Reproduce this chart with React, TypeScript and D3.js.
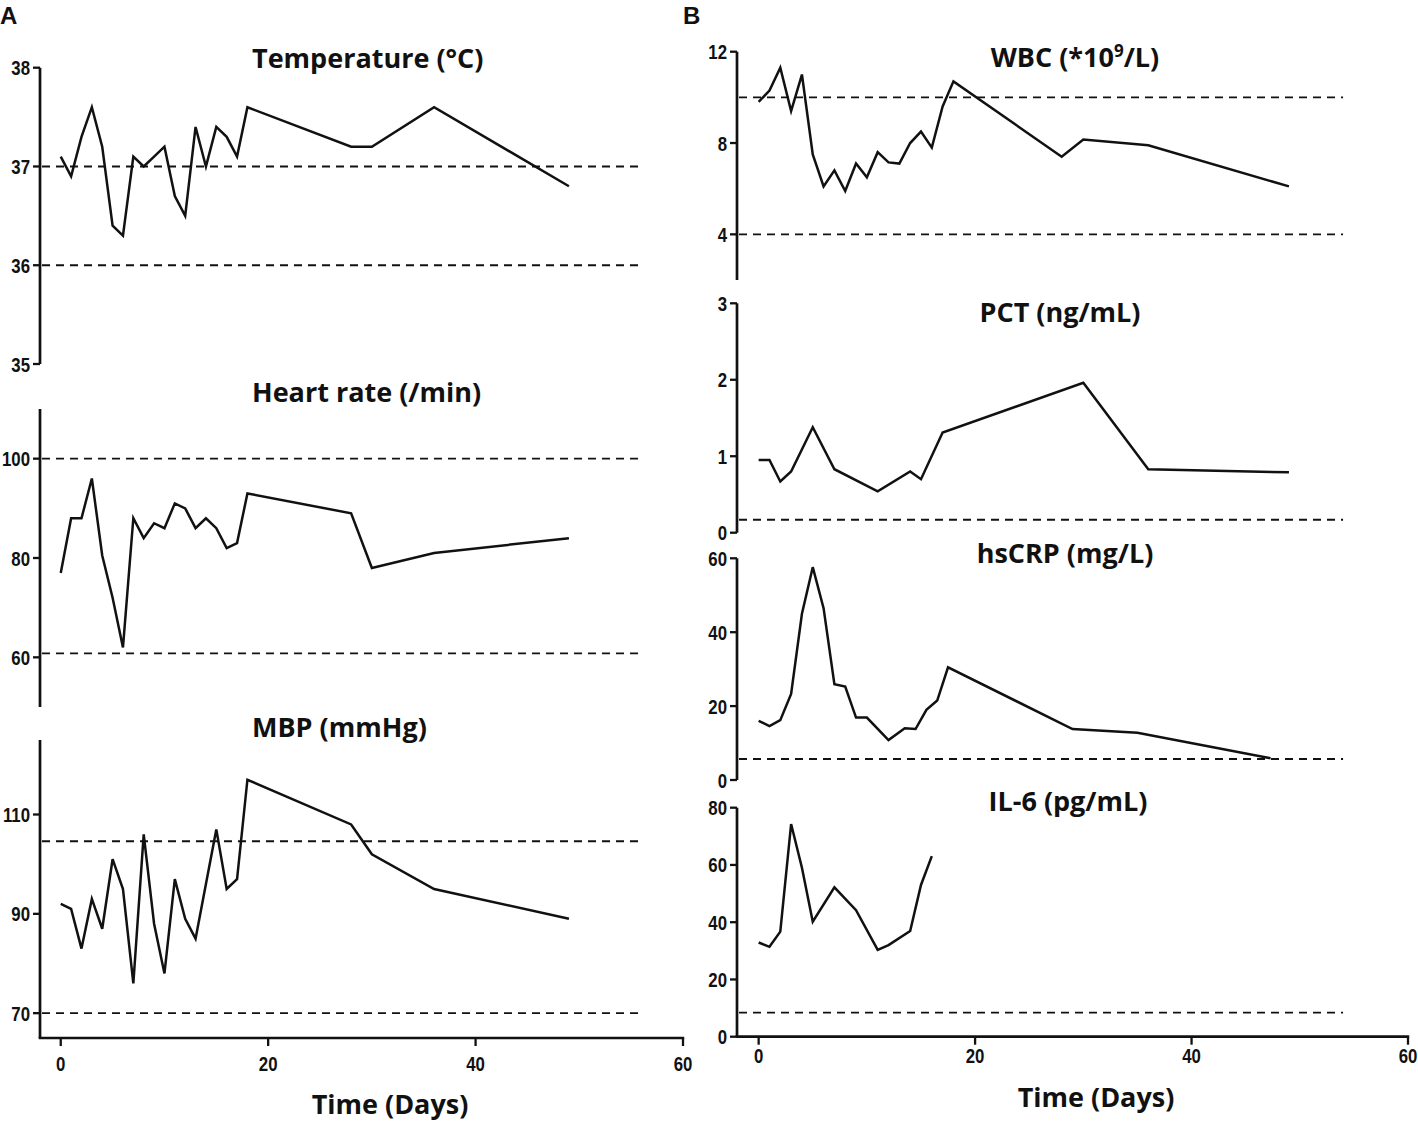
import React from "react";
import * as d3 from "d3";

// ---------- data ----------
const vitalDays = [0, 1, 2, 3, 4, 5, 6, 7, 8, 9, 10, 11, 12, 13, 14, 15, 16, 17, 18, 28, 30, 36, 49];
const tempValues = [37.1, 36.9, 37.3, 37.6, 37.2, 36.4, 36.3, 37.1, 37.0, 37.1, 37.2, 36.7, 36.5, 37.4, 37.0, 37.4, 37.3, 37.1, 37.6, 37.2, 37.2, 37.6, 36.8];
const hrValues = [77, 88, 88, 96, 80.5, 72, 62, 88, 84, 87, 86, 91, 90, 86, 88, 86, 82, 83, 93, 89, 78, 81, 84];
const mbpValues = [92, 91, 83, 93, 87, 101, 95, 76, 106, 88, 78, 97, 89, 85, 96, 107, 95, 97, 117, 108, 102, 95, 89];

const wbcDays = [0, 1, 2, 3, 4, 5, 6, 7, 8, 9, 10, 11, 12, 13, 14, 15, 16, 17, 18, 28, 30, 36, 49];
const wbcValues = [9.8, 10.3, 11.3, 9.4, 11.0, 7.5, 6.1, 6.8, 5.9, 7.1, 6.5, 7.6, 7.15, 7.1, 8.0, 8.5, 7.8, 9.6, 10.7, 7.4, 8.15, 7.9, 6.1];

const pctDays = [0, 1, 2, 3, 5, 7, 11, 14, 15, 17, 30, 36, 49];
const pctValues = [0.95, 0.95, 0.67, 0.8, 1.38, 0.83, 0.54, 0.8, 0.7, 1.31, 1.96, 0.83, 0.79];

const crpDays = [0, 1, 2, 3, 4, 5, 6, 7, 8, 9, 10, 12, 13.5, 14.5, 15.5, 16.5, 17.5, 29, 35, 47.3];
const crpValues = [16, 14.6, 16.2, 23.3, 45, 57.6, 46.5, 25.9, 25.3, 16.9, 16.9, 10.8, 14.0, 13.8, 19.0, 21.5, 30.5, 13.8, 12.8, 5.9];

const il6Days = [0, 1, 2, 3, 4, 5, 7, 9, 11, 12, 14, 15, 16];
const il6Values = [32.9, 31.4, 36.7, 74.3, 59, 40.2, 52.2, 44.2, 30.3, 32, 36.9, 53, 63.1];

const xTicks = [0, 20, 40, 60];
const tempTicks = [35, 36, 37, 38];
const hrTicks = [60, 80, 100];
const mbpTicks = [70, 90, 110];
const wbcTicks = [4, 8, 12];
const pctTicks = [0, 1, 2, 3];
const crpTicks = [0, 20, 40, 60];
const il6Ticks = [0, 20, 40, 60, 80];

const tempRefs = [37, 36];
const hrRefs = [100, 60.8];
const mbpRefs = [104.6, 70];
const wbcRefs = [10, 4];
const pctRefs = [0.17];
const crpRefs = [5.7];
const il6Refs = [8.4];

// ---------- styling ----------
const TICK_FONT = "'Liberation Sans', Arial, sans-serif";
const TITLE_FONT = "'Open Sans', sans-serif";

const xLeft = d3.scaleLinear().domain([-2, 60]).range([40, 683]);
const xRight = d3.scaleLinear().domain([-2, 60]).range([737, 1408]);

type PanelProps = {
  x: d3.ScaleLinear<number, number>;
  yDomain: [number, number];
  yRange: [number, number];
  ticks: number[];
  days: number[];
  values: number[];
  refs: number[];
  refEnd: number;
  title: React.ReactNode;
  titleX: number;
  titleY: number;
  titleAnchor: "start" | "middle";
};

function Narrow({ x, y, anchor, children, size = 21 }: { x: number; y: number; anchor: string; children: React.ReactNode; size?: number }) {
  return (
    <text
      transform={`translate(${x},${y}) scale(0.8,1)`}
      textAnchor={anchor as any}
      fontFamily={TICK_FONT}
      fontWeight="bold"
      fontSize={size}
      fill="#111"
    >
      {children}
    </text>
  );
}

function Panel(p: PanelProps) {
  const y = d3.scaleLinear().domain(p.yDomain).range(p.yRange);
  const x0 = p.x.range()[0];
  const line = d3
    .line<number>()
    .x((_, i) => p.x(p.days[i]))
    .y((v) => y(v));
  return (
    <g>
      {p.refs.map((r, i) => (
        <line
          key={"r" + i}
          x1={x0 + 2}
          x2={p.x(p.refEnd)}
          y1={y(r)}
          y2={y(r)}
          stroke="#111"
          strokeWidth={1.9}
          strokeDasharray="8,6"
        />
      ))}
      <line x1={x0} x2={x0} y1={p.yRange[0]} y2={p.yRange[1]} stroke="#111" strokeWidth={2.7} />
      {p.ticks.map((t) => (
        <g key={"t" + t}>
          <line x1={x0 - 7} x2={x0} y1={y(t)} y2={y(t)} stroke="#111" strokeWidth={2.3} />
          <Narrow x={x0 - 10} y={y(t) + 7.5} anchor="end">
            {t}
          </Narrow>
        </g>
      ))}
      <path d={line(p.values) || ""} fill="none" stroke="#111" strokeWidth={2.5} strokeLinejoin="miter" />
      <text
        x={p.titleX}
        y={p.titleY}
        textAnchor={p.titleAnchor}
        fontFamily={TITLE_FONT}
        fontWeight="bold"
        fontSize={27}
        fill="#111"
      >
        {p.title}
      </text>
    </g>
  );
}

function XAxis({ x, yPos, labelY, titleX, titleY }: { x: d3.ScaleLinear<number, number>; yPos: number; labelY: number; titleX: number; titleY: number }) {
  const [r0, r1] = x.range();
  return (
    <g>
      <line x1={r0 - 1.3} x2={r1 + 1.2} y1={yPos} y2={yPos} stroke="#111" strokeWidth={2.7} />
      {xTicks.map((t) => (
        <g key={t}>
          <line x1={x(t)} x2={x(t)} y1={yPos} y2={yPos + 8} stroke="#111" strokeWidth={2.3} />
          <Narrow x={x(t)} y={labelY} anchor="middle">
            {t}
          </Narrow>
        </g>
      ))}
      <text x={titleX} y={titleY} textAnchor="middle" fontFamily={TITLE_FONT} fontWeight="bold" fontSize={27} fill="#111">
        Time (Days)
      </text>
    </g>
  );
}

export default function App() {
  return (
    <svg
      width={1418}
      height={1123}
      viewBox="0 0 1418 1123"
      style={{ position: "absolute", left: 0, top: 0, background: "#fff" }}
    >
      <rect x={0} y={0} width={1418} height={1123} fill="#fff" />
      <text x={0} y={24} fontFamily={TICK_FONT} fontWeight="bold" fontSize={24} fill="#111">A</text>
      <text x={683} y={24} fontFamily={TICK_FONT} fontWeight="bold" fontSize={24} fill="#111">B</text>

      {/* Left column */}
      <Panel x={xLeft} yDomain={[35, 38]} yRange={[364, 67.7]} ticks={tempTicks} days={vitalDays} values={tempValues}
        refs={tempRefs} refEnd={56} title="Temperature (°C)" titleX={252} titleY={68} titleAnchor="start" />
      <Panel x={xLeft} yDomain={[50, 110]} yRange={[707, 409]} ticks={hrTicks} days={vitalDays} values={hrValues}
        refs={hrRefs} refEnd={56} title="Heart rate (/min)" titleX={252} titleY={402} titleAnchor="start" />
      <Panel x={xLeft} yDomain={[65, 125]} yRange={[1038, 740]} ticks={mbpTicks} days={vitalDays} values={mbpValues}
        refs={mbpRefs} refEnd={56} title="MBP (mmHg)" titleX={252} titleY={737} titleAnchor="start" />
      <XAxis x={xLeft} yPos={1038} labelY={1071} titleX={390} titleY={1114} />

      {/* Right column */}
      <Panel x={xRight} yDomain={[2, 12]} yRange={[280, 51.7]} ticks={wbcTicks} days={wbcDays} values={wbcValues}
        refs={wbcRefs} refEnd={54}
        title={<>WBC (*10<tspan fontSize={17} dy={-10}>9</tspan><tspan dy={10}>/L)</tspan></>}
        titleX={1075} titleY={67} titleAnchor="middle" />
      <Panel x={xRight} yDomain={[0, 3]} yRange={[532.7, 303.3]} ticks={pctTicks} days={pctDays} values={pctValues}
        refs={pctRefs} refEnd={54} title="PCT (ng/mL)" titleX={1060} titleY={322} titleAnchor="middle" />
      <Panel x={xRight} yDomain={[0, 60]} yRange={[780, 558.3]} ticks={crpTicks} days={crpDays} values={crpValues}
        refs={crpRefs} refEnd={54} title="hsCRP (mg/L)" titleX={1065} titleY={563} titleAnchor="middle" />
      <Panel x={xRight} yDomain={[0, 80]} yRange={[1036.7, 807.7]} ticks={il6Ticks} days={il6Days} values={il6Values}
        refs={il6Refs} refEnd={54} title="IL-6 (pg/mL)" titleX={1068} titleY={811} titleAnchor="middle" />
      <XAxis x={xRight} yPos={1036.7} labelY={1063} titleX={1096} titleY={1107} />
    </svg>
  );
}
